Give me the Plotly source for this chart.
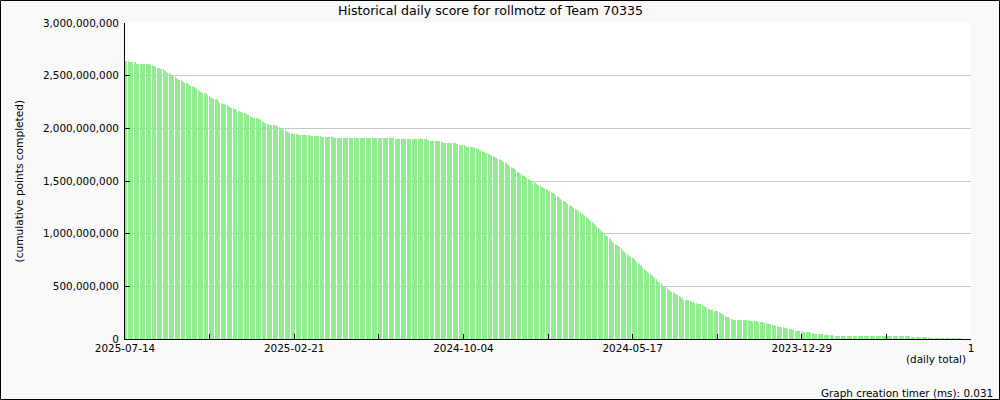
import plotly.graph_objects as go

title_text = "Historical daily score for rollmotz of Team 70335"
y_title = "(cumulative points completed)"
x_title = "(daily total)"
timer_text = "Graph creation timer (ms): 0.031"

# tick labels along the x axis (every 70 bars; unlabeled minor ticks are "")
tick_labels = ["2025-07-14", "", "2025-02-21", "", "2024-10-04", "",
               "2024-05-17", "", "2023-12-29", "", "1"]

# cumulative points completed, in millions, one value per day (newest first)
score_millions = [
    2643, 2642, 2640, 2632, 2628, 2627, 2627, 2627, 2626, 2614,
    2612, 2612, 2611, 2611, 2611, 2611, 2611, 2611, 2610, 2610,
    2609, 2605, 2598, 2592, 2588, 2580, 2572, 2570, 2569, 2568,
    2566, 2562, 2552, 2540, 2534, 2528, 2522, 2516, 2506, 2498,
    2495, 2490, 2478, 2468, 2463, 2460, 2456, 2450, 2440, 2435,
    2432, 2430, 2424, 2412, 2405, 2400, 2396, 2392, 2385, 2378,
    2368, 2358, 2348, 2343, 2340, 2338, 2335, 2330, 2320, 2310,
    2300, 2292, 2285, 2280, 2278, 2275, 2265, 2255, 2245, 2238,
    2235, 2232, 2228, 2224, 2218, 2210, 2203, 2195, 2192, 2190,
    2187, 2183, 2176, 2168, 2160, 2155, 2152, 2150, 2147, 2143,
    2138, 2130, 2122, 2114, 2108, 2104, 2102, 2100, 2098, 2095,
    2092, 2088, 2080, 2068, 2058, 2052, 2048, 2045, 2040, 2035,
    2032, 2031, 2030, 2030, 2029, 2026, 2018, 2010, 2005, 2000,
    1995, 1988, 1980, 1972, 1966, 1962, 1958, 1952, 1948, 1946,
    1945, 1944, 1942, 1940, 1938, 1937, 1937, 1937, 1936, 1936,
    1936, 1935, 1934, 1932, 1929, 1927, 1927, 1927, 1926, 1926,
    1925, 1923, 1920, 1918, 1918, 1918, 1918, 1918, 1918, 1918,
    1918, 1917, 1915, 1912, 1909, 1908, 1908, 1908, 1908, 1908,
    1908, 1908, 1908, 1908, 1908, 1908, 1908, 1908, 1908, 1908,
    1908, 1908, 1908, 1908, 1908, 1908, 1908, 1908, 1908, 1908,
    1908, 1908, 1908, 1907, 1907, 1907, 1907, 1907, 1907, 1907,
    1907, 1907, 1907, 1907, 1907, 1907, 1907, 1907, 1907, 1907,
    1907, 1906, 1904, 1900, 1899, 1899, 1899, 1899, 1899, 1899,
    1899, 1899, 1899, 1899, 1899, 1899, 1899, 1899, 1899, 1899,
    1899, 1899, 1899, 1899, 1899, 1899, 1899, 1898, 1898, 1898,
    1894, 1886, 1883, 1882, 1882, 1882, 1882, 1882, 1882, 1882,
    1880, 1870, 1866, 1865, 1865, 1865, 1865, 1865, 1865, 1862,
    1862, 1862, 1862, 1858, 1852, 1847, 1845, 1845, 1845, 1845,
    1838, 1830, 1826, 1825, 1824, 1823, 1822, 1820, 1818, 1814,
    1810, 1805, 1800, 1795, 1790, 1785, 1780, 1775, 1770, 1765,
    1760, 1755, 1748, 1742, 1737, 1732, 1727, 1720, 1712, 1705,
    1700, 1695, 1690, 1685, 1678, 1670, 1662, 1652, 1643, 1635,
    1628, 1620, 1610, 1600, 1590, 1582, 1575, 1568, 1560, 1552,
    1545, 1538, 1530, 1520, 1512, 1505, 1500, 1495, 1488, 1480,
    1472, 1465, 1458, 1452, 1446, 1440, 1433, 1426, 1420, 1414,
    1408, 1402, 1396, 1390, 1384, 1377, 1370, 1362, 1352, 1340,
    1330, 1322, 1314, 1306, 1298, 1290, 1282, 1274, 1266, 1258,
    1250, 1243, 1236, 1229, 1222, 1214, 1206, 1198, 1190, 1180,
    1165, 1157, 1148, 1138, 1128, 1118, 1108, 1098, 1088, 1078,
    1068, 1058, 1048, 1036, 1024, 1012, 1000, 988, 976, 965,
    955, 945, 935, 922, 910, 900, 895, 890, 882, 870,
    860, 848, 835, 825, 815, 805, 797, 788, 780, 770,
    765, 755, 745, 735, 725, 712, 700, 690, 678, 668,
    658, 648, 638, 628, 618, 608, 598, 590, 575, 565,
    555, 545, 535, 528, 515, 505, 498, 490, 482, 468,
    462, 455, 448, 442, 437, 432, 425, 418, 408, 400,
    392, 386, 375, 372, 370, 369, 366, 360, 357, 356,
    352, 342, 338, 337, 336, 335, 330, 320, 314, 312,
    308, 295, 285, 281, 279, 278, 275, 268, 266, 265,
    262, 252, 245, 242, 240, 235, 222, 212, 209, 205,
    195, 188, 186, 185, 185, 185, 185, 185, 184, 184,
    184, 184, 183, 183, 182, 180, 174, 172, 171, 171,
    171, 170, 170, 168, 163, 161, 161, 160, 158, 152,
    148, 147, 146, 145, 140, 132, 130, 129, 128, 125,
    118, 117, 116, 115, 113, 108, 104, 102, 98, 96,
    95, 93, 90, 82, 78, 76, 76, 75, 74, 72,
    67, 66, 66, 66, 65, 65, 65, 64, 60, 54,
    52, 52, 52, 51, 51, 50, 50, 48, 42, 39,
    38, 38, 38, 37, 37, 35, 29, 28, 28, 28,
    28, 28, 28, 28, 28, 28, 28, 28, 28, 28,
    28, 28, 28, 28, 28, 28, 28, 28, 28, 28,
    28, 28, 28, 28, 28, 28, 28, 28, 28, 28,
    27, 27, 27, 27, 27, 27, 27, 27, 27, 27,
    27, 27, 27, 27, 27, 27, 27, 27, 27, 27,
    27, 27, 27, 27, 27, 27, 27, 27, 27, 25,
    21, 19, 19, 19, 19, 19, 19, 19, 19, 19,
    19, 19, 19, 19, 15, 10, 10, 10, 10, 10,
    10, 10, 10, 10, 10, 10, 10, 8, 5, 5,
    5, 5, 5, 5, 5, 5, 5, 5, 5, 5,
    5, 5, 4, 0, 0, 0, 0, 0, 0, 0,
]

W, H = 1000, 400
ML, MR, MT, MB = 125, 29, 23, 61
plot_w = W - ML - MR
plot_h = H - MT - MB

n = len(score_millions)
x_vals = [i + 0.5 for i in range(n)]
y_vals = [v * 1e6 for v in score_millions]
step = n / (len(tick_labels) - 1)
tick_vals = [k * step for k in range(len(tick_labels))]
one_px = n / plot_w  # data units per pixel

FONT = "DejaVu Sans"

fig = go.Figure(go.Bar(
    x=x_vals, y=y_vals, width=one_px,
    marker=dict(color="rgba(144,238,144,0.999)", line=dict(width=0)),
    hoverinfo="skip",
))


def px_x(p):
    return (p - ML) / plot_w


def px_y(p):
    return (H - MB - p) / plot_h


fig.update_layout(
    width=W, height=H, autosize=False,
    margin=dict(l=ML, r=MR, t=MT, b=MB, pad=0),
    paper_bgcolor="#f9f9f9", plot_bgcolor="white",
    bargap=0, showlegend=False,
    font=dict(family=FONT, size=10.4, color="black"),
    xaxis=dict(range=[0, n], tickmode="array", tickvals=tick_vals, ticktext=tick_labels,
               ticks="inside", ticklen=5, tickwidth=1, tickcolor="black",
               showline=True, linecolor="black", linewidth=1, mirror=False,
               showgrid=False, zeroline=False, tickangle=0,
               tickfont=dict(family=FONT, size=10.4, color="black")),
    yaxis=dict(range=[0, 3e9], tickmode="linear", tick0=0, dtick=5e8, tickformat=",d",
               ticks="inside", ticklen=5, tickwidth=1, tickcolor="black",
               showline=True, linecolor="black", linewidth=1,
               showgrid=True, gridcolor="#c8c8c8", gridwidth=1, zeroline=False,
               ticklabelstandoff=3,
               tickfont=dict(family=FONT, size=10.4, color="black")),
    annotations=[
        dict(text=title_text, xref="paper", yref="paper", x=px_x(490), y=px_y(10),
             xanchor="center", yanchor="middle", showarrow=False,
             font=dict(family=FONT, size=12.6, color="black")),
        dict(text=y_title, xref="paper", yref="paper", x=px_x(18.5), y=0.5,
             xanchor="center", yanchor="middle", textangle=-90, showarrow=False,
             font=dict(family=FONT, size=10.6, color="black")),
        dict(text=x_title, xref="paper", yref="paper", x=px_x(968), y=px_y(359),
             xanchor="right", yanchor="middle", showarrow=False,
             font=dict(family=FONT, size=10.4, color="black")),
        dict(text=timer_text, xref="paper", yref="paper", x=px_x(995), y=px_y(392.5),
             xanchor="right", yanchor="middle", showarrow=False,
             font=dict(family=FONT, size=10.4, color="black")),
    ],
    shapes=[
        dict(type="rect", xref="paper", yref="paper",
             x0=px_x(0.5), x1=px_x(W - 0.5), y0=px_y(H - 0.5), y1=px_y(0.5),
             line=dict(color="black", width=1), fillcolor="rgba(0,0,0,0)", layer="above"),
    ],
)

fig.write_html("out.html",
               config={"displayModeBar": False},
               post_script="document.body.style.margin='0';document.body.style.overflow='hidden';")
